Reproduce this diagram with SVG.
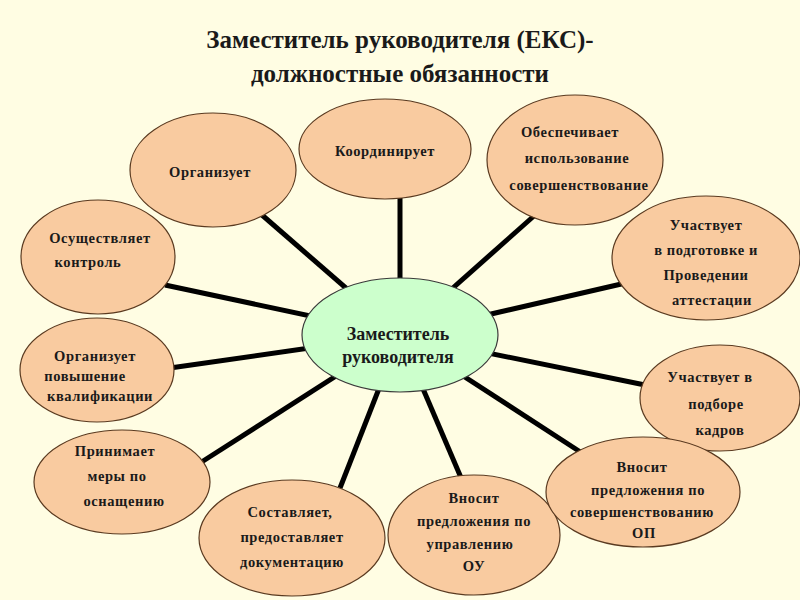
<svg xmlns="http://www.w3.org/2000/svg" width="800" height="600" viewBox="0 0 800 600">
<style>
.n{fill:#F9CBA0;stroke:#5a3a20;stroke-width:1.2}
.c{fill:#CCFFCC;stroke:#3a3a3a;stroke-width:1.2}
text{font-family:'Liberation Serif','DejaVu Serif',serif;font-weight:bold;fill:#1a1a1a;text-anchor:middle;letter-spacing:0.6px}
.t{font-size:14.5px}
.ct{font-size:18px;letter-spacing:0}
.h{font-size:25px;letter-spacing:0}
#edges line{stroke:#000;stroke-width:5}
</style>
<rect width="800" height="600" fill="#FFFDE3"/>
<text class="h" x="400" y="48" font-family="Liberation Serif">Заместитель руководителя (ЕКС)-</text>
<text class="h" x="400" y="82" font-family="Liberation Serif">должностные обязанности</text>
<g id="edges">
<line x1="400" y1="335" x2="400" y2="195"/>
<line x1="400" y1="335" x2="262" y2="215"/>
<line x1="400" y1="335" x2="535" y2="215"/>
<line x1="400" y1="335" x2="630" y2="282"/>
<line x1="400" y1="335" x2="165" y2="285"/>
<line x1="400" y1="335" x2="170" y2="368"/>
<line x1="400" y1="335" x2="645" y2="385"/>
<line x1="400" y1="335" x2="200" y2="463"/>
<line x1="400" y1="335" x2="340" y2="488"/>
<line x1="400" y1="335" x2="462" y2="480"/>
<line x1="400" y1="335" x2="585" y2="455"/>
</g>
<g id="n1"><ellipse class="n" cx="385" cy="149" rx="86" ry="50"/><text class="t" x="385" y="156">Координирует</text></g>
<g id="n2"><ellipse class="n" cx="213" cy="170" rx="83" ry="57"/><text class="t" x="210" y="177">Организует</text></g>
<g id="n3"><ellipse class="n" cx="575" cy="160" rx="88" ry="65"/><text class="t" x="570" y="137">Обеспечивает</text><text class="t" x="577" y="163">использование</text><text class="t" x="579" y="190">совершенствование</text></g>
<g id="n4"><ellipse class="n" cx="706" cy="258" rx="94" ry="62"/><text class="t" x="706" y="230">Участвует</text><text class="t" x="706" y="255">в подготовке и</text><text class="t" x="706" y="280">Проведении</text><text class="t" x="712" y="305">аттестации</text></g>
<g id="n5"><ellipse class="n" cx="98" cy="257" rx="77" ry="57"/><text class="t" x="100" y="243">Осуществляет</text><text class="t" x="88" y="267">контроль</text></g>
<g id="n6"><ellipse class="n" cx="97" cy="370" rx="77" ry="52"/><text class="t" x="95" y="361">Организует</text><text class="t" x="85" y="381">повышение</text><text class="t" x="100" y="401">квалификации</text></g>
<g id="n7"><ellipse class="n" cx="720" cy="398" rx="80" ry="53"/><text class="t" x="710" y="382">Участвует в</text><text class="t" x="716" y="409">подборе</text><text class="t" x="720" y="435">кадров</text></g>
<g id="n8"><ellipse class="n" cx="122" cy="482" rx="88" ry="52"/><text class="t" x="115" y="456">Принимает</text><text class="t" x="117" y="481">меры по</text><text class="t" x="124" y="506">оснащению</text></g>
<g id="n9"><ellipse class="n" cx="292" cy="538" rx="93" ry="58"/><text class="t" x="290" y="517">Составляет,</text><text class="t" x="292" y="542">предоставляет</text><text class="t" x="292" y="567">документацию</text></g>
<g id="n10"><ellipse class="n" cx="474" cy="535" rx="86" ry="60"/><text class="t" x="474" y="503">Вносит</text><text class="t" x="474" y="526">предложения по</text><text class="t" x="470" y="549">управлению</text><text class="t" x="474" y="571">ОУ</text></g>
<g id="n11"><ellipse class="n" cx="643" cy="492" rx="97" ry="55"/><text class="t" x="642" y="472">Вносит</text><text class="t" x="648" y="495">предложения по</text><text class="t" x="642" y="517">совершенствованию</text><text class="t" x="644" y="538">ОП</text></g>
<g id="center"><ellipse class="c" cx="400" cy="335" rx="98" ry="57"/><text class="ct" x="398" y="340">Заместитель</text><text class="ct" x="398" y="363">руководителя</text></g>
</svg>
